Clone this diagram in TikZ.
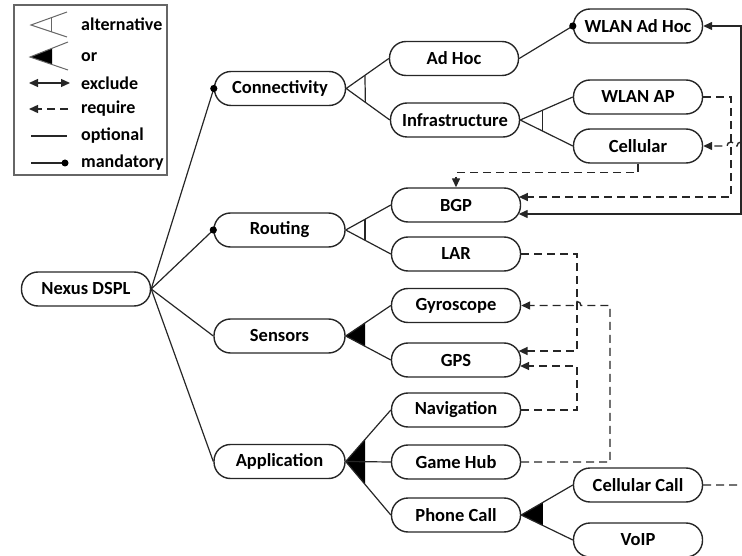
\documentclass[tikz,border=0pt]{standalone}
\usepackage{fontspec}
\setmainfont{Carlito}
\usetikzlibrary{arrows.meta,calc}

\begin{document}
\begin{tikzpicture}[x=1pt,y=-1pt,
  feat/.style={draw=black!85, line width=1.4pt, rounded corners=16.5pt,
    minimum width=129pt, minimum height=34pt, inner sep=0pt,
    font=\fontsize{18.5}{21}\selectfont\bfseries},
  edge/.style={draw=black!85, line width=1.2pt},
  req/.style={draw=black!85, line width=1.4pt, dash pattern=on 8pt off 5pt,
    -{Triangle[length=9pt,width=8pt]}},
  excl/.style={draw=black!85, line width=1.3pt,
    {Triangle[length=9pt,width=8pt]}-{Triangle[length=9pt,width=8pt]}},
  lgtext/.style={anchor=west, inner sep=0pt, font=\fontsize{18}{21}\selectfont\bfseries},
  ]
\clip (0,0) rectangle (742,556);

% ---------- legend ----------
\draw[draw=black!60, line width=1.3pt] (14,5) rectangle (167,175);
% alternative symbol
\coordinate (la0) at (31,25);
\coordinate (la1) at (67,12);
\coordinate (la2) at (67,37);
\draw[gray!80!black, line width=1pt] (la1) -- (la0) -- (la2);
\draw[gray!80!black, line width=1pt] ($(la0)!0.58!(la1)$) -- ($(la0)!0.58!(la2)$);
% or symbol
\coordinate (lo0) at (30,57);
\coordinate (lo1) at (68,42);
\coordinate (lo2) at (68,70);
\fill[black] (lo0) -- ($(lo0)!0.58!(lo1)$) -- ($(lo0)!0.58!(lo2)$) -- cycle;
\draw[gray!80!black, line width=1pt] (lo1) -- (lo0) -- (lo2);
% relation samples
\draw[excl] (29,83) -- (70,83);
\draw[req] (68,109) -- (29,109);
\draw[edge] (31,136) -- (67,136);
\draw[edge] (31,163) -- (65,163);
\fill[black] (65,163) circle (3.5pt);
\node[lgtext] (lgalt) at (81,24) {alternative};
\node[lgtext] (lgor) at (81,57) {or};
\node[lgtext] (lgex) at (81,83) {exclude};
\node[lgtext] (lgreq) at (81,109) {require};
\node[lgtext] (lgopt) at (81,136) {optional};
\node[lgtext] (lgman) at (81,163) {mandatory};

% ---------- features ----------
\node[feat] (root) at (86,289) {Nexus DSPL};
\node[feat, minimum width=131pt] (conn) at (280,88.5) {Connectivity};
\node[feat, minimum width=131pt] (rout) at (279.5,230) {Routing};
\node[feat, minimum width=131pt] (sens) at (279.5,336) {Sensors};
\node[feat, minimum width=131pt] (app) at (279.5,461.5) {Application};
\node[feat] (adhoc) at (454,58.5) {Ad Hoc};
\node[feat] (infra) at (455,120) {Infrastructure};
\node[feat] (wah) at (638,26) {WLAN Ad Hoc};
\node[feat] (wap) at (638,97) {WLAN AP};
\node[feat] (cell) at (638,146) {Cellular};
\node[feat] (bgp) at (456,205) {BGP};
\node[feat] (lar) at (456,254) {LAR};
\node[feat] (gyro) at (456,305.5) {Gyroscope};
\node[feat] (gps) at (456,360) {GPS};
\node[feat] (nav) at (456,410) {Navigation};
\node[feat] (game) at (456,462) {Game Hub};
\node[feat] (phone) at (456,515) {Phone Call};
\node[feat] (ccall) at (638,485) {Cellular Call};
\node[feat] (voip) at (638,540) {VoIP};

% ---------- tree edges ----------
\draw[edge] (root.east) -- (conn.west);
\draw[edge] (root.east) -- (rout.west);
\draw[edge] (root.east) -- (sens.west);
\draw[edge] (root.east) -- (app.west);
\fill[black] (conn.west) circle (3.6pt);
\fill[black] (rout.west) circle (3.6pt);

\draw[edge] (adhoc.east) -- (wah.west);
\fill[black] (wah.west) circle (3.6pt);

% alternative groups
\draw[edge] (conn.east) -- (adhoc.west) (conn.east) -- (infra.west);
\draw[edge] ($(conn.east)!0.44!(adhoc.west)$) -- ($(conn.east)!0.44!(infra.west)$);

\draw[edge] (infra.east) -- (wap.west) (infra.east) -- (cell.west);
\draw[edge] ($(infra.east)!0.43!(wap.west)$) -- ($(infra.east)!0.43!(cell.west)$);

\draw[edge] (rout.east) -- (bgp.west) (rout.east) -- (lar.west);
\draw[edge] ($(rout.east)!0.43!(bgp.west)$) -- ($(rout.east)!0.43!(lar.west)$);

% or groups
\fill[black] (sens.east) -- ($(sens.east)!0.43!(gyro.west)$) -- ($(sens.east)!0.43!(gps.west)$) -- cycle;
\draw[edge] (sens.east) -- (gyro.west) (sens.east) -- (gps.west);

\fill[black] (app.east) -- ($(app.east)!0.43!(nav.west)$) -- ($(app.east)!0.43!(phone.west)$) -- cycle;
\draw[edge] (app.east) -- (nav.west) (app.east) -- (game.west) (app.east) -- (phone.west);

\fill[black] (phone.east) -- ($(phone.east)!0.42!(ccall.west)$) -- ($(phone.east)!0.42!(voip.west)$) -- cycle;
\draw[edge] (phone.east) -- (ccall.west) (phone.east) -- (voip.west);

% ---------- cross-tree constraints ----------
% exclude
\coordinate (exR) at (741,214);
\draw[excl] (wah.east) -| (exR) -- ($(bgp.east)+(-2.5,9)$);
% require
\draw[req] (wap.east) -- (731,97) -- (731,197) -- ($(bgp.east)+(-2.3,-8)$);
\draw[req] (cell.south) -- ++(0,9) -| (bgp.north);
\draw[req] (ccall.east) -- (760,485) -- (760,146) -- (745,146)
  arc[start angle=0, end angle=180, radius=4pt] -- (735,146)
  arc[start angle=0, end angle=180, radius=4pt] -- (cell.east);
\draw[req] (lar.east) -- (577,254) -- (577,351) -- ($(gps.east)+(-2.6,-9)$);
\draw[req] (nav.east) -- (577,410) -- (577,366) -- ($(gps.east)+(-1.1,6)$);
\draw[req] (game.east) -- (610,462) -- (610,305.5) -- (581,305.5)
  arc[start angle=0, end angle=180, radius=4pt] -- (gyro.east);
\end{tikzpicture}
\end{document}
